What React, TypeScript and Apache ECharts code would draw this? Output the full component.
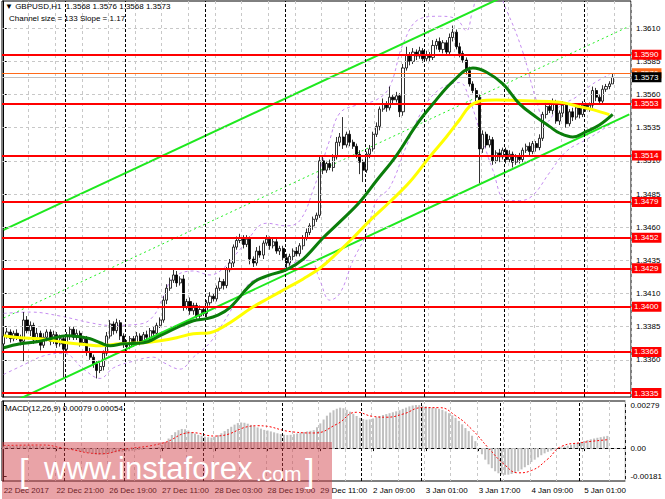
import { useEffect, useRef } from 'react';
import * as echarts from 'echarts';
import type { EChartsOption } from 'echarts';

const PIP = 0.0001;
const SLOT_COUNT = 189; // 184 hourly bars + empty shift on the right
const LABEL_STEP = 16;
const GRID_STEP = 8;
const FONT = 'Liberation Sans, Arial, sans-serif';

const timeLabels = [
    '22 Dec 2017', '22 Dec 21:00', '26 Dec 19:00', '27 Dec 11:00', '28 Dec 03:00', '28 Dec 19:00',
    '29 Dec 11:00', '2 Jan 09:00', '3 Jan 01:00', '3 Jan 17:00', '4 Jan 09:00', '5 Jan 01:00',
];

// GBPUSD H1 closes (open = previous close)
const firstOpen = 1.3372;
const closes = [
    1.3378, 1.3381, 1.3376, 1.3380, 1.3377, 1.3374, 1.3390, 1.3382, 1.3386, 1.3375, 1.3380, 1.3371, 1.3377, 1.3381, 1.3374, 1.3379,
    1.3372, 1.3376, 1.3368, 1.3378, 1.3383, 1.3377, 1.3380, 1.3373, 1.3376, 1.3366, 1.3362, 1.3357, 1.3352, 1.3355, 1.3365, 1.3378,
    1.3387, 1.3382, 1.3388, 1.3378, 1.3372, 1.3370, 1.3376, 1.3373, 1.3378, 1.3374, 1.3379, 1.3377, 1.3382, 1.3380, 1.3386, 1.3390,
    1.3405, 1.3414, 1.3420, 1.3424, 1.3418, 1.3421, 1.3400, 1.3404, 1.3397, 1.3401, 1.3393, 1.3398, 1.3395, 1.3403, 1.3408, 1.3406,
    1.3414, 1.3419, 1.3416, 1.3428, 1.3433, 1.3445, 1.3450, 1.3452, 1.3447, 1.3451, 1.3436, 1.3433, 1.3442, 1.3439, 1.3448, 1.3451,
    1.3446, 1.3449, 1.3442, 1.3444, 1.3437, 1.3433, 1.3438, 1.3442, 1.3440, 1.3446, 1.3452, 1.3456, 1.3461, 1.3466, 1.3469, 1.3510,
    1.3503, 1.3508, 1.3505, 1.3513, 1.3524, 1.3528, 1.3522, 1.3530, 1.3524, 1.3521, 1.3515, 1.3509, 1.3503, 1.3515, 1.3519, 1.3530,
    1.3536, 1.3549, 1.3553, 1.3550, 1.3558, 1.3556, 1.3559, 1.3547, 1.3580, 1.3590, 1.3585, 1.3592, 1.3589, 1.3593, 1.3587, 1.3590,
    1.3588, 1.3597, 1.3600, 1.3594, 1.3599, 1.3592, 1.3603, 1.3607, 1.3596, 1.3591, 1.3586, 1.3578, 1.3568, 1.3563, 1.3558, 1.3519,
    1.3530, 1.3522, 1.3526, 1.3510, 1.3516, 1.3513, 1.3518, 1.3511, 1.3515, 1.3509, 1.3513, 1.3511, 1.3518, 1.3521, 1.3517, 1.3523,
    1.3520, 1.3527, 1.3545, 1.3551, 1.3548, 1.3554, 1.3540, 1.3546, 1.3552, 1.3538, 1.3547, 1.3543, 1.3550, 1.3545, 1.3552, 1.3549,
    1.3552, 1.3563, 1.3558, 1.3555, 1.3564, 1.3566, 1.3568, 1.3573,
];

// wick lengths in pips above / below the body
const upWick = [
    2, 3, 2, 2, 3, 2, 6, 3, 3, 2, 4, 2, 3, 2, 2, 3,
    2, 3, 2, 3, 2, 2, 3, 2, 2, 2, 3, 2, 2, 3, 2, 3,
    3, 2, 3, 2, 2, 3, 2, 2, 3, 2, 2, 3, 2, 3, 2, 2,
    3, 3, 2, 5, 3, 2, 3, 2, 3, 2, 2, 3, 2, 2, 3, 2,
    2, 3, 2, 2, 3, 2, 3, 3, 2, 3, 2, 2, 3, 4, 2, 3,
    2, 3, 2, 2, 2, 3, 2, 2, 3, 2, 2, 3, 2, 2, 2, 3,
    3, 2, 3, 2, 4, 3, 15, 2, 3, 2, 2, 3, 2, 2, 3, 2,
    3, 2, 4, 2, 8, 2, 3, 2, 3, 6, 2, 3, 2, 3, 2, 3,
    2, 4, 2, 3, 2, 2, 3, 5, 2, 3, 2, 2, 3, 2, 2, 2,
    3, 2, 3, 2, 2, 3, 2, 2, 3, 2, 2, 3, 2, 2, 3, 2,
    2, 3, 2, 3, 2, 3, 2, 2, 3, 2, 2, 3, 2, 2, 3, 2,
    2, 3, 2, 2, 3, 2, 2, 3,
];
const lowWick = [
    3, 2, 3, 2, 2, 3, 15, 2, 4, 3, 2, 4, 2, 3, 3, 2,
    3, 2, 22, 2, 3, 2, 2, 3, 2, 3, 2, 3, 6, 2, 3, 2,
    2, 3, 2, 3, 3, 4, 2, 3, 2, 3, 2, 2, 3, 2, 2, 2,
    2, 3, 2, 2, 3, 2, 3, 2, 3, 3, 2, 3, 2, 3, 2, 2,
    2, 2, 3, 2, 2, 3, 2, 2, 3, 2, 4, 3, 2, 2, 3, 2,
    3, 2, 2, 3, 2, 4, 2, 3, 2, 2, 3, 2, 2, 3, 2, 2,
    3, 2, 2, 3, 2, 3, 3, 2, 3, 2, 3, 9, 9, 2, 3, 2,
    2, 3, 2, 3, 2, 3, 2, 4, 3, 2, 3, 2, 3, 2, 3, 2,
    3, 2, 3, 2, 3, 2, 2, 3, 2, 3, 2, 3, 2, 2, 3, 26,
    3, 2, 2, 3, 2, 4, 2, 3, 2, 4, 2, 3, 2, 2, 3, 2,
    3, 2, 2, 3, 2, 3, 2, 3, 3, 3, 2, 3, 2, 3, 2, 2,
    2, 2, 3, 2, 2, 2, 2, 0,
];

const levels = [1.3590, 1.3553, 1.3514, 1.3479, 1.3452, 1.3429, 1.3400, 1.3366, 1.3335];
const priceTicks = [1.3335, 1.3360, 1.3385, 1.3410, 1.3435, 1.3460, 1.3485, 1.3510, 1.3535, 1.3560, 1.3585, 1.3610];
const priceLabels = [1.3360, 1.3385, 1.3410, 1.3435, 1.3460, 1.3485, 1.3510, 1.3535, 1.3560, 1.3585, 1.3610];
const askPrice = 1.3576;
const bidPrice = 1.3573;

// first bar of each new day
const daySeparators = [19, 37, 61, 85, 109, 127, 151, 175];

// regression channel anchors [bar, price]
const channelLow = [[0, 1.3325], [188, 1.3545]];
const channelMid = [[0, 1.33915], [188, 1.36115]];
const channelHigh = [[0, 1.3458], [188, 1.3678]];

// moving averages and envelopes [bar, price]
const maGreen = [
    [0, 1.33691], [5, 1.33721], [10, 1.33736], [14, 1.33759], [19, 1.33782], [23, 1.33774], [26, 1.33759],
    [29, 1.33729], [32, 1.33706], [36, 1.33721], [42, 1.33729], [47, 1.33782], [52, 1.33842], [57, 1.33895],
    [61, 1.33911], [64, 1.33933], [68, 1.33994], [75, 1.34183], [80, 1.34240], [85, 1.3428], [90, 1.3436],
    [96, 1.3452], [101, 1.3464], [107, 1.3479], [112, 1.3495], [118, 1.3514], [124, 1.3537], [129, 1.3553],
    [135, 1.3570], [141, 1.3580], [145, 1.3577], [150, 1.3568], [155, 1.3553], [160, 1.3543], [164, 1.3536],
    [167, 1.3531], [171, 1.3528], [175, 1.3532], [179, 1.3537], [183, 1.3545],
];
const maYellow = [
    [0, 1.33782], [5, 1.33767], [11, 1.33759], [19, 1.33729], [25, 1.33714], [29, 1.33706], [35, 1.33721],
    [42, 1.33729], [47, 1.33744], [52, 1.33767], [57, 1.33797], [62, 1.33805], [65, 1.33835], [68, 1.3388],
    [75, 1.3400], [80, 1.3407], [85, 1.3414], [90, 1.3421], [95, 1.3429], [100, 1.3440], [105, 1.3452],
    [110, 1.3465], [116, 1.3479], [122, 1.3494], [128, 1.3513], [133, 1.3528], [137, 1.3541], [140, 1.3551],
    [143, 1.3555], [148, 1.35558], [154, 1.35555], [164, 1.35547], [168, 1.35539], [173, 1.35509],
    [177, 1.35486], [182, 1.35448],
];
const bandUpper = [
    [0, 1.3395], [8, 1.3396], [17, 1.3393], [26, 1.3388], [32, 1.3386], [41, 1.3387], [45, 1.3393],
    [48, 1.3408], [51, 1.3422], [57, 1.3427], [62, 1.3424], [66, 1.3429], [72, 1.3446], [79, 1.3463],
    [85, 1.3461], [89, 1.3465], [93, 1.3488], [98, 1.3526], [101, 1.3546], [106, 1.3552], [112, 1.3556],
    [116, 1.3566], [120, 1.3598], [125, 1.3617], [131, 1.3619], [136, 1.3617], [139, 1.3608], [141, 1.3624],
    [143, 1.3636], [148, 1.3636], [151, 1.3624], [156, 1.3592], [160, 1.3556], [163, 1.3539], [167, 1.3551],
    [172, 1.3558], [177, 1.3568], [182, 1.3575],
];
const bandLower = [
    [0, 1.3349], [5, 1.3355], [12, 1.3363], [18, 1.3365], [24, 1.3353], [29, 1.3346], [33, 1.3354],
    [39, 1.3359], [45, 1.3362], [48, 1.3358], [53, 1.3353], [57, 1.3362], [62, 1.3373], [66, 1.3388],
    [71, 1.3408], [75, 1.3420], [81, 1.3424], [87, 1.3433], [92, 1.3435], [95, 1.3420], [98, 1.3405],
    [101, 1.3410], [105, 1.3435], [109, 1.3455], [112, 1.3480], [116, 1.3490], [121, 1.3521], [126, 1.3549],
    [131, 1.3564], [137, 1.3569], [140, 1.3556], [143, 1.3533], [147, 1.3503], [151, 1.3480], [155, 1.3480],
    [159, 1.3484], [164, 1.3501], [169, 1.3517], [175, 1.3526], [179, 1.3532], [183, 1.3539],
];

// MACD(12,26,9) main values, in units of 0.00001
const macdHist = [
    10, 12, 13, 14, 14, 13, 15, 16, 16, 15, 14, 13, 12, 10, 8, 6,
    4, 2, 0, -4, -8, -12, -16, -20, -24, -28, -33, -38, -42, -44, -43, -40,
    -35, -30, -27, -25, -24, -22, -20, -17, -14, -12, -9, -6, -3, 0, 3, 8,
    20, 40, 62, 85, 103, 116, 124, 122, 114, 104, 94, 86, 80, 74, 70, 68,
    74, 84, 96, 110, 124, 138, 152, 162, 166, 164, 158, 150, 142, 134, 126, 118,
    114, 108, 102, 96, 91, 87, 84, 86, 90, 95, 100, 104, 108, 112, 116, 135,
    160, 185, 210, 230, 245, 255, 262, 258, 248, 236, 222, 208, 196, 188, 184, 186,
    192, 200, 208, 214, 220, 226, 232, 238, 245, 254, 262, 270, 276, 279, 278, 274,
    270, 266, 262, 259, 255, 248, 238, 226, 212, 196, 176, 154, 130, 110, 80, 45,
    0, -40, -75, -105, -130, -150, -163, -170, -173, -172, -168, -160, -150, -138, -124, -110,
    -90, -75, -60, -46, -34, -24, -16, -8, -2, 4, 10, 16, 22, 28, 34, 40,
    46, 52, 57, 62, 67, 71, 75, 79,
];
const macdSignal = [
    [0, 0.00017], [12, 0.0002], [18, 0.0], [30, -0.00036], [36, -0.0001], [48, 0.00031], [57, 0.001],
    [64, 0.00078], [77, 0.00145], [88, 0.00104], [94, 0.00098], [101, 0.00155], [107, 0.00232],
    [112, 0.00205], [116, 0.002], [121, 0.0022], [127, 0.00262], [132, 0.00262], [137, 0.0021],
    [142, 0.0012], [147, 0.0], [152, -0.0011], [156, -0.0016], [160, -0.00145], [165, -0.0007],
    [169, 0.0001], [175, 0.00035], [183, 0.00054],
];
const macdTicks = [0.00279, 0, -0.00181];

function buildOption(): EChartsOption {
    const categories = Array.from({ length: SLOT_COUNT }, (_, i) => String(i));
    const candleData = closes.map((c, i) => {
        const o = i === 0 ? firstOpen : closes[i - 1];
        const low = Math.min(o, c) - lowWick[i] * PIP;
        const high = Math.max(o, c) + upWick[i] * PIP;
        return [o, c, +low.toFixed(5), +high.toFixed(5)];
    });

    const boxLabel = (value: number, bg: string) => ({
        show: true,
        position: 'end' as const,
        distance: 1,
        formatter: value.toFixed(4),
        color: '#fff',
        backgroundColor: bg,
        fontSize: 8,
        fontFamily: FONT,
        padding: [1, 3, 1, 2],
    });

    const gridSplit = {
        show: true,
        interval: (i: number) => i > 0 && i % GRID_STEP === 0,
        lineStyle: { color: '#c8c8c8', type: [3, 3] as number[], width: 1 },
    };

    const separatorLines = daySeparators.map((k) => ({
        xAxis: k - 0.5,
        lineStyle: { color: '#000', type: [3, 2] as number[], width: 1 },
    }));

    return {
        animation: false,
        backgroundColor: '#fff',
        textStyle: { fontFamily: FONT },
        grid: [
            { left: 2, top: 1, width: 629, height: 396, show: true, borderColor: '#000', borderWidth: 1, backgroundColor: '#fff' },
            { left: 2, top: 401, width: 629, height: 80, show: true, borderColor: '#000', borderWidth: 1, backgroundColor: '#fff' },
        ],
        xAxis: [
            {
                type: 'category', gridIndex: 0, data: categories, boundaryGap: true,
                axisLine: { show: false }, axisTick: { show: false }, axisLabel: { show: false },
                splitLine: gridSplit,
            },
            { type: 'value', gridIndex: 0, min: -0.5, max: SLOT_COUNT - 0.5, show: false },
            {
                type: 'category', gridIndex: 1, data: categories, boundaryGap: true,
                axisLine: { show: true, lineStyle: { color: '#000', width: 1 } },
                axisTick: {
                    show: true, alignWithLabel: true, length: 3,
                    interval: (i: number) => i % LABEL_STEP === 0,
                    lineStyle: { color: '#000' },
                },
                axisLabel: {
                    show: true,
                    interval: (i: number) => i % LABEL_STEP === 0,
                    formatter: (_v: string, i: number) => timeLabels[i / LABEL_STEP] ?? '',
                    align: 'left', color: '#000', fontSize: 8, margin: 5,
                },
                splitLine: gridSplit,
            },
            { type: 'value', gridIndex: 1, min: -0.5, max: SLOT_COUNT - 0.5, show: false },
        ],
        yAxis: [
            {
                type: 'value', gridIndex: 0, position: 'right', min: 1.3332, max: 1.36305, scale: true,
                splitLine: { show: false },
                axisLine: { show: true, lineStyle: { color: '#000', width: 1 } },
                axisTick: { show: true, length: 3, customValues: priceTicks, lineStyle: { color: '#000' } },
                axisLabel: {
                    customValues: priceLabels,
                    formatter: (v: number) => v.toFixed(4),
                    color: '#000', fontSize: 8, margin: 5,
                },
            },
            {
                type: 'value', gridIndex: 1, position: 'right', min: -0.00213, max: 0.00305,
                splitLine: { show: false },
                axisLine: { show: true, lineStyle: { color: '#000', width: 1 } },
                axisTick: { show: true, length: 3, customValues: macdTicks, lineStyle: { color: '#000' } },
                axisLabel: {
                    customValues: macdTicks,
                    formatter: (v: number) => (v === 0 ? '0.00' : v.toFixed(5)),
                    color: '#000', fontSize: 8, margin: 5,
                },
            },
        ],
        series: [
            {
                name: 'grid', type: 'line', xAxisIndex: 1, yAxisIndex: 0, data: [], silent: true, z: 1,
                markLine: {
                    silent: true, symbol: ['none', 'none'], label: { show: false }, animation: false, precision: 6,
                    data: [
                        ...priceTicks.map((p) => ({ yAxis: p, lineStyle: { color: '#c8c8c8', type: [3, 3] as number[], width: 1 } })),
                        ...separatorLines,
                    ],
                },
            },
            {
                name: 'bands-up', type: 'line', xAxisIndex: 1, yAxisIndex: 0, data: bandUpper, smooth: 0.4,
                symbol: 'none', silent: true, z: 2,
                lineStyle: { color: '#c58cf0', width: 1, type: [3, 3] },
            },
            {
                name: 'bands-low', type: 'line', xAxisIndex: 1, yAxisIndex: 0, data: bandLower, smooth: 0.4,
                symbol: 'none', silent: true, z: 2,
                lineStyle: { color: '#c58cf0', width: 1, type: [3, 3] },
            },
            {
                name: 'channel-mid', type: 'line', xAxisIndex: 1, yAxisIndex: 0, data: channelMid,
                symbol: 'none', silent: true, z: 2,
                lineStyle: { color: '#22ee22', width: 1, type: [2, 3] },
            },
            {
                name: 'GBPUSD', type: 'candlestick', xAxisIndex: 0, yAxisIndex: 0, data: candleData, z: 3,
                barWidth: 2.6,
                itemStyle: { color: '#ffffff', color0: '#000000', borderColor: '#000000', borderColor0: '#000000', borderWidth: 0.8 },
            },
            {
                name: 'channel-low', type: 'line', xAxisIndex: 1, yAxisIndex: 0, data: channelLow,
                symbol: 'none', silent: true, z: 4,
                lineStyle: { color: '#1ee81e', width: 2 },
            },
            {
                name: 'channel-high', type: 'line', xAxisIndex: 1, yAxisIndex: 0, data: channelHigh,
                symbol: 'none', silent: true, z: 4,
                lineStyle: { color: '#1ee81e', width: 2 },
            },
            {
                name: 'ma-yellow', type: 'line', xAxisIndex: 1, yAxisIndex: 0, data: maYellow, smooth: 0.4,
                symbol: 'none', silent: true, z: 5,
                lineStyle: { color: '#ffff00', width: 3 },
            },
            {
                name: 'ma-green', type: 'line', xAxisIndex: 1, yAxisIndex: 0, data: maGreen, smooth: 0.4,
                symbol: 'none', silent: true, z: 5,
                lineStyle: { color: '#0a7d0a', width: 3 },
            },
            {
                name: 'levels', type: 'line', xAxisIndex: 1, yAxisIndex: 0, data: [], silent: true, z: 6,
                markLine: {
                    silent: true, symbol: ['none', 'none'], animation: false, precision: 6,
                    data: [
                        ...levels.map((p) => ({ yAxis: p, lineStyle: { color: '#ff0000', width: 2, type: 'solid' as const }, label: boxLabel(p, '#ff0000') })),
                        { yAxis: askPrice, lineStyle: { color: '#ff6a1a', width: 1, type: 'solid' as const }, label: boxLabel(askPrice, '#ff6a1a') },
                        { yAxis: bidPrice, lineStyle: { color: '#c0c0c0', width: 1, type: 'solid' as const }, label: boxLabel(bidPrice, '#000000') },
                    ],
                },
            },
            {
                name: 'macd-grid', type: 'line', xAxisIndex: 3, yAxisIndex: 1, data: [], silent: true, z: 1,
                markLine: {
                    silent: true, symbol: ['none', 'none'], label: { show: false }, animation: false, precision: 6,
                    data: [
                        { yAxis: 0, lineStyle: { color: '#c0c0c0', type: [3, 3] as number[], width: 1 } },
                        ...separatorLines,
                    ],
                },
            },
            {
                name: 'MACD', type: 'bar', xAxisIndex: 2, yAxisIndex: 1, data: macdHist.map((v) => v * 0.00001),
                barWidth: '62%', silent: true, z: 2,
                itemStyle: { color: '#c0c0c0' },
            },
            {
                name: 'Signal', type: 'line', xAxisIndex: 3, yAxisIndex: 1, data: macdSignal, smooth: 0.5,
                symbol: 'none', silent: true, z: 3,
                lineStyle: { color: '#ff0000', width: 1, type: [2, 2] },
            },
        ],
        graphic: [
            {
                type: 'text', left: 5, top: 2, z: 50,
                style: { text: '▼ GBPUSD,H1  1.3568 1.3576 1.3568 1.3573', fontSize: 8, fontFamily: FONT, fill: '#000' },
            },
            {
                type: 'text', left: 9, top: 14, z: 50,
                style: { text: 'Channel size = 133 Slope = 1.17', fontSize: 8, fontFamily: FONT, fill: '#000' },
            },
            {
                type: 'text', left: 5, top: 404, z: 50,
                style: { text: 'MACD(12,26,9) 0.00079 0.00054', fontSize: 8, fontFamily: FONT, fill: '#000' },
            },
            {
                type: 'group', z: 100,
                children: [
                    { type: 'rect', shape: { x: 2, y: 442, width: 330, height: 57 }, style: { fill: 'rgba(208, 62, 72, 0.48)' }, z: 100 },
                    { type: 'text', x: 19, y: 470, z: 101, style: { text: '[', fontSize: 34, fontFamily: FONT, fill: '#fff', verticalAlign: 'middle', fontWeight: 'lighter' } },
                    { type: 'text', x: 44, y: 468, z: 101, style: { text: 'www.instaforex', fontSize: 31, fontFamily: FONT, fill: '#fff', verticalAlign: 'middle' } },
                    { type: 'text', x: 256, y: 473, z: 101, style: { text: '.com', fontSize: 21, fontFamily: FONT, fill: '#fff', verticalAlign: 'middle' } },
                    { type: 'text', x: 305, y: 470, z: 101, style: { text: ']', fontSize: 34, fontFamily: FONT, fill: '#fff', verticalAlign: 'middle', fontWeight: 'lighter' } },
                ],
            },
        ],
    } as EChartsOption;
}

export default function App() {
    const chartRef = useRef<HTMLDivElement>(null);

    useEffect(() => {
        if (!chartRef.current) return;
        const chart = echarts.init(chartRef.current, undefined, { renderer: 'svg' });
        chart.setOption(buildOption());
        return () => {
            chart.dispose();
        };
    }, []);

    return (
        <div
            ref={chartRef}
            style={{ position: 'fixed', left: 0, top: 0, width: 665, height: 499, background: '#fff' }}
        />
    );
}
